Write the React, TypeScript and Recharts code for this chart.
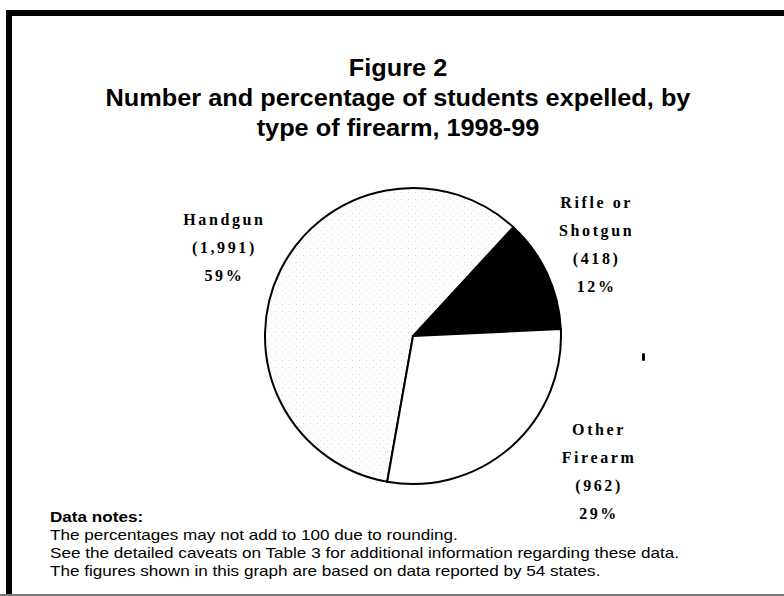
import React from "react";
import { Cell, Pie, PieChart } from "recharts";

// Firearm categories, drawn counter-clockwise starting just above 3 o'clock
const CATEGORIES = ["Rifle or Shotgun", "Handgun", "Other Firearm"];
const COUNTS = [418, 1991, 962];
const COUNT_LABELS = ["(418)", "(1,991)", "(962)"];
const PERCENT_LABELS = ["12%", "59%", "29%"];
const NAME_LINES = [["Rifle or", "Shotgun"], ["Handgun"], ["Other", "Firearm"]];

const TITLE_LINES = [
  "Figure 2",
  "Number and percentage of students expelled, by",
  "type of firearm, 1998-99",
];
const NOTE_LINES = [
  "The percentages may not add to 100 due to rounding.",
  "See the detailed caveats on Table 3 for additional information regarding these data.",
  "The figures shown in this graph are based on data reported by 54 states.",
];

const FILLS = ["#000000", "url(#stipple)", "#ffffff"];
// small nudges so each label block sits where the original put it
const LABEL_NUDGE = [
  [-3, -5],
  [-4, 2],
  [50, -20],
];

const data = CATEGORIES.map((name, i) => ({ name, value: COUNTS[i] }));

const RAD = Math.PI / 180;
const LINE_H = 28;

function renderLabel(props: any) {
  const { cx, cy, midAngle, outerRadius, index } = props;
  const r = outerRadius + 58;
  const x = cx + r * Math.cos(-midAngle * RAD) + LABEL_NUDGE[index][0];
  const y = cy + r * Math.sin(-midAngle * RAD) + LABEL_NUDGE[index][1];
  const lines = [...NAME_LINES[index], COUNT_LABELS[index], PERCENT_LABELS[index]];
  const top = y - ((lines.length - 1) * LINE_H) / 2;
  return (
    <text
      key={`lbl-${index}`}
      x={x}
      y={top}
      textAnchor="middle"
      dominantBaseline="central"
      fontFamily="'Liberation Serif', serif"
      fontWeight="bold"
      fontSize={16}
      letterSpacing={2.6}
      fill="#000"
    >
      {lines.map((t, j) => (
        <tspan key={j} x={x} dy={j === 0 ? 0 : LINE_H}>
          {t}
        </tspan>
      ))}
    </text>
  );
}

export default function App() {
  return (
    <div
      style={{
        position: "absolute",
        left: 0,
        top: 0,
        width: 784,
        height: 596,
        background: "#fff",
        overflow: "hidden",
      }}
    >
      {/* frame: thick top and left, thin grey bottom */}
      <div style={{ position: "absolute", left: 6, top: 10, width: 778, height: 6, background: "#000" }} />
      <div style={{ position: "absolute", left: 6, top: 10, width: 6, height: 586, background: "#000" }} />
      <div style={{ position: "absolute", left: 0, top: 594, width: 784, height: 2, background: "#777" }} />

      <PieChart width={784} height={596} style={{ position: "absolute", left: 0, top: 0 }}>
        <defs>
          <pattern id="stipple" width="7" height="7" patternUnits="userSpaceOnUse">
            <rect width="7" height="7" fill="#fdfdfd" />
            <rect x="2" y="3" width="1" height="1" fill="#d4d4d4" />
            <rect x="5" y="6" width="1" height="1" fill="#e6e6e6" />
          </pattern>
        </defs>
        <Pie
          data={data}
          dataKey="value"
          nameKey="name"
          cx={408}
          cy={331}
          outerRadius={148}
          startAngle={2.7}
          endAngle={362.7}
          stroke="#000"
          strokeWidth={2}
          label={renderLabel}
          labelLine={false}
          isAnimationActive={false}
        >
          {data.map((d, i) => (
            <Cell key={d.name} fill={FILLS[i]} />
          ))}
        </Pie>
      </PieChart>

      <div
        style={{
          position: "absolute",
          left: 0,
          top: 53,
          width: 784,
          textAlign: "center",
          fontFamily: "'Liberation Sans', Arial, sans-serif",
          fontWeight: "bold",
          fontSize: 23,
          lineHeight: "30px",
          color: "#000",
          transform: "scaleX(1.1)",
          transformOrigin: "398px 0",
        }}
      >
        {TITLE_LINES.map((t) => (
          <div key={t} style={{ marginLeft: 12 }}>{t}</div>
        ))}
      </div>

      <div
        style={{
          position: "absolute",
          left: 50,
          top: 508,
          fontFamily: "'Liberation Sans', Arial, sans-serif",
          fontSize: 15,
          lineHeight: "18px",
          color: "#000",
          whiteSpace: "nowrap",
          transform: "scaleX(1.14)",
          transformOrigin: "0 0",
        }}
      >
        <div style={{ fontWeight: "bold" }}>Data notes:</div>
        {NOTE_LINES.map((t) => (
          <div key={t}>{t}</div>
        ))}
      </div>

      {/* stray scan mark to the right of the pie */}
      <div
        style={{
          position: "absolute",
          left: 642,
          top: 353,
          width: 3,
          height: 8,
          borderRadius: 2,
          background: "#000",
        }}
      />
    </div>
  );
}
